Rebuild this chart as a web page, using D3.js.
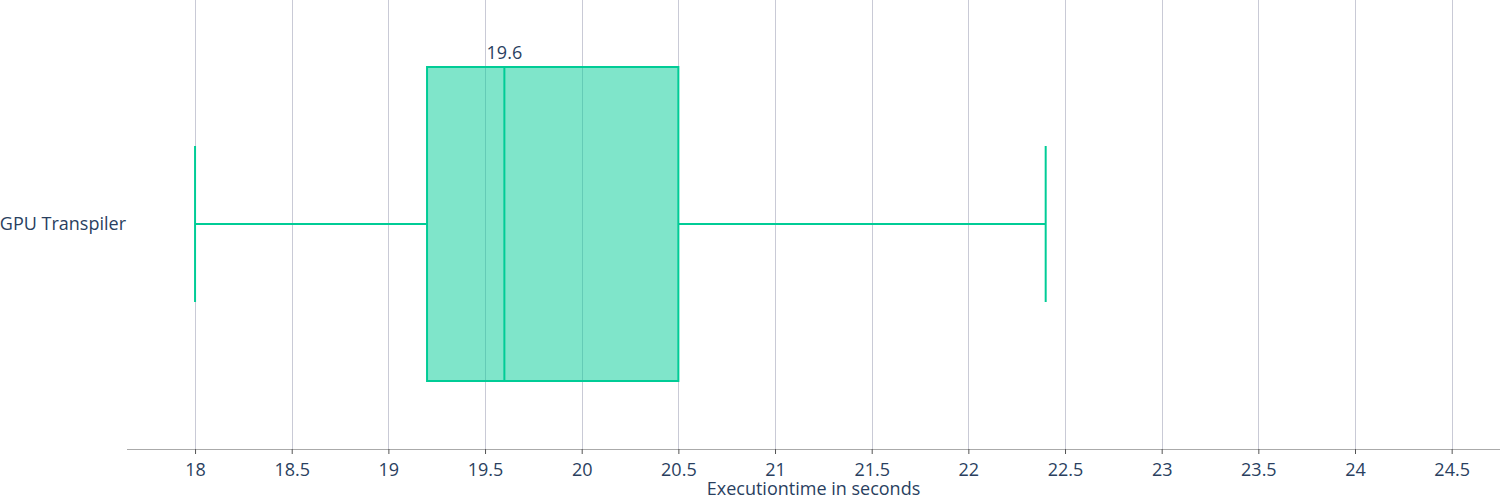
<!DOCTYPE html>
<html><head><meta charset="utf-8">
<script src="https://cdn.jsdelivr.net/npm/d3@7"></script>
<style>body{margin:0;background:#fff;}svg{display:block;font-family:"Open Sans",sans-serif;}</style>
</head><body><svg id="c" width="1500" height="500"></svg>
<script>
const categories = ["GPU Transpiler"];
const lowerWhisker = [18.0];
const q1Values = [19.2];
const medianValues = [19.6];
const q3Values = [20.5];
const upperWhisker = [22.4];
const tickValues = [18,18.5,19,19.5,20,20.5,21,21.5,22,22.5,23,23.5,24,24.5];
const xTitle = "Executiontime in seconds";

const svg = d3.select("#c");
const pLeft = 127, pRight = 1500, pTop = 0, pBottom = 449;
const x = d3.scaleLinear().domain([17.648, 24.75]).range([pLeft, pRight]);
const y = d3.scaleBand().domain(categories).range([-21, pBottom + 20]).padding(0);
const color = "#00cc96";
const fs = 18;

svg.append("g").selectAll("line").data(tickValues).join("line")
  .attr("x1", d => Math.round(x(d)) + 0.5).attr("x2", d => Math.round(x(d)) + 0.5)
  .attr("y1", pTop).attr("y2", pBottom)
  .attr("stroke", "#c9cad6").attr("stroke-width", 1);

const ax = svg.append("g").attr("transform", `translate(0,${pBottom})`)
  .call(d3.axisBottom(x).tickValues(tickValues).tickSize(5).tickSizeOuter(0).tickPadding(9)
    .tickFormat(d => String(d)));
ax.select(".domain").attr("stroke", "#aaaaaa").attr("d", `M${pLeft},0.5H${pRight}`);
ax.selectAll(".tick line").attr("stroke", "#555").attr("stroke-width", 1);
ax.selectAll(".tick text").attr("fill", "#2a3f5f").attr("font-size", fs).attr("font-family", "Open Sans");

svg.append("text").attr("x", (pLeft + pRight) / 2).attr("y", 495)
  .attr("text-anchor", "middle").attr("fill", "#2a3f5f").attr("font-size", fs).text(xTitle);

categories.forEach((c, i) => {
  const cy = y(c) + y.bandwidth() / 2;
  const bh = 314, ch = 156;
  const g = svg.append("g");
  g.append("line").attr("x1", x(lowerWhisker[i])).attr("x2", x(q1Values[i])).attr("y1", cy).attr("y2", cy)
    .attr("stroke", color).attr("stroke-width", 2);
  g.append("line").attr("x1", x(q3Values[i])).attr("x2", x(upperWhisker[i])).attr("y1", cy).attr("y2", cy)
    .attr("stroke", color).attr("stroke-width", 2);
  [lowerWhisker[i], upperWhisker[i]].forEach(v => {
    g.append("line").attr("x1", x(v)).attr("x2", x(v)).attr("y1", cy - ch / 2).attr("y2", cy + ch / 2)
      .attr("stroke", color).attr("stroke-width", 2);
  });
  g.append("rect").attr("x", x(q1Values[i])).attr("y", cy - bh / 2)
    .attr("width", x(q3Values[i]) - x(q1Values[i])).attr("height", bh)
    .attr("fill", color).attr("fill-opacity", 0.5).attr("stroke", color).attr("stroke-width", 2);
  g.append("line").attr("x1", x(medianValues[i])).attr("x2", x(medianValues[i]))
    .attr("y1", cy - bh / 2).attr("y2", cy + bh / 2).attr("stroke", color).attr("stroke-width", 2);
  svg.append("text").attr("x", x(medianValues[i])).attr("y", cy - bh / 2 - 8)
    .attr("text-anchor", "middle").attr("fill", "#2a3f5f").attr("font-size", fs).text(String(medianValues[i]));
  svg.append("text").attr("x", pLeft - 1).attr("y", cy).attr("dy", "0.35em")
    .attr("text-anchor", "end").attr("fill", "#2a3f5f").attr("font-size", fs).text(c);
});
</script></body></html>
